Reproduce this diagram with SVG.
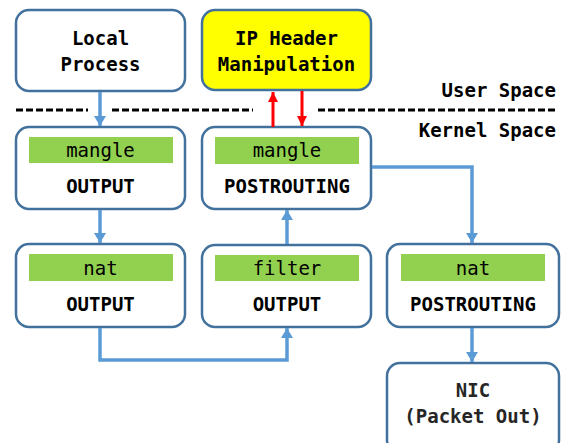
<svg xmlns="http://www.w3.org/2000/svg" width="564" height="443" viewBox="0 0 564 443">
<defs>
<marker id="ab" viewBox="0 0 10 12" refX="10" refY="6" markerWidth="10" markerHeight="12" markerUnits="userSpaceOnUse" orient="auto"><path d="M0,0 L10,6 L0,12 Z" fill="#5B9BD5"/></marker>
<marker id="ar" viewBox="0 0 10 10" refX="10" refY="5" markerWidth="10" markerHeight="10" markerUnits="userSpaceOnUse" orient="auto"><path d="M0,0 L10,5 L0,10 Z" fill="#FF0000"/></marker>
<style>
.box{fill:#fff;stroke:#41719C;stroke-width:2.5}
.tbl{fill:#92D050}
.t{font-family:"DejaVu Sans Mono","Liberation Mono",monospace;font-size:19px;text-anchor:middle;fill:#000}
.b{font-weight:bold}
.c{fill:none;stroke:#5B9BD5;stroke-width:3.5}
.r{fill:none;stroke:#FF0000;stroke-width:3}
.d{fill:none;stroke:#000;stroke-width:3;stroke-dasharray:7 3}
</style>
</defs>
<rect width="564" height="443" fill="#fff"/>
<g id="divider">
<path class="d" d="M16,110H88M112,110H253M318,110H558"/>
<text class="t b" x="556" y="97" text-anchor="end" style="text-anchor:end">User Space</text>
<text class="t b" x="556" y="137" style="text-anchor:end">Kernel Space</text>
</g>
<g id="local-process">
<rect class="box" x="16" y="10" width="169" height="81" rx="13"/>
<text class="t b" x="100.5" y="45">Local</text>
<text class="t b" x="100.5" y="71">Process</text>
</g>
<g id="ip-header">
<rect class="box" x="202" y="10" width="169" height="80" rx="13" style="fill:#FFFF00"/>
<text class="t b" x="286.5" y="45">IP Header</text>
<text class="t b" x="286.5" y="71">Manipulation</text>
</g>
<g id="mangle-output">
<rect class="box" x="16" y="127" width="169" height="82" rx="13"/>
<rect class="tbl" x="29" y="137" width="144" height="26"/>
<text class="t" x="100.5" y="157">mangle</text>
<text class="t b" x="100.5" y="193">OUTPUT</text>
</g>
<g id="mangle-postrouting">
<rect class="box" x="202" y="127" width="169" height="82" rx="13"/>
<rect class="tbl" x="215" y="137" width="144" height="27"/>
<text class="t" x="287" y="157">mangle</text>
<text class="t b" x="287" y="193">POSTROUTING</text>
</g>
<g id="nat-output">
<rect class="box" x="16" y="244" width="169" height="83" rx="13"/>
<rect class="tbl" x="29" y="254" width="144" height="27"/>
<text class="t" x="100.5" y="275">nat</text>
<text class="t b" x="100.5" y="311">OUTPUT</text>
</g>
<g id="filter-output">
<rect class="box" x="202" y="245" width="169" height="82" rx="13"/>
<rect class="tbl" x="215" y="255" width="144" height="26"/>
<text class="t" x="287" y="275">filter</text>
<text class="t b" x="287" y="311">OUTPUT</text>
</g>
<g id="nat-postrouting">
<rect class="box" x="387" y="244" width="172" height="83" rx="13"/>
<rect class="tbl" x="401" y="254" width="144" height="27"/>
<text class="t" x="473" y="275">nat</text>
<text class="t b" x="473" y="311">POSTROUTING</text>
</g>
<g id="nic">
<rect class="box" x="387" y="363" width="172" height="90" rx="13"/>
<text class="t b" x="473" y="397" style="fill:#262626">NIC</text>
<text class="t b" x="473" y="423" style="fill:#262626">(Packet Out)</text>
</g>
<g id="connectors">
<path class="c" d="M100,92V126" marker-end="url(#ab)"/>
<path class="c" d="M100,210V243" marker-end="url(#ab)"/>
<path class="c" d="M100,328V360H287V328" marker-end="url(#ab)"/>
<path class="c" d="M287,244V210" marker-end="url(#ab)"/>
<path class="c" d="M372,167H472V243" marker-end="url(#ab)"/>
<path class="c" d="M472,328V362" marker-end="url(#ab)"/>
<path class="r" d="M273,127V92" marker-end="url(#ar)"/>
<path class="r" d="M302,91V126" marker-end="url(#ar)"/>
</g>
</svg>
